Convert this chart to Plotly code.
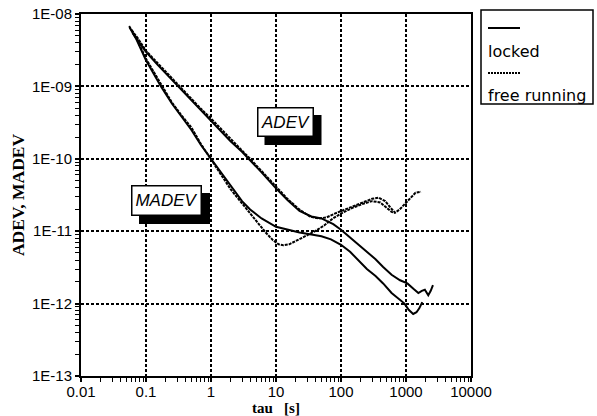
import plotly.graph_objects as go

# ---------------- data ----------------
tau_adev_free = [0.06, 0.075, 0.1, 0.15, 0.22, 0.33, 0.5, 0.7, 1, 1.5, 2, 3, 4, 6, 10, 15, 22, 33, 45,
                 60, 80, 100, 150, 220, 300, 380, 480, 580, 680, 800, 1000, 1200, 1400, 1700]
adev_free = [6.0e-9, 4.6e-9, 3.1e-9, 2.1e-9, 1.45e-9, 1.0e-9, 6.8e-10, 4.9e-10, 3.6e-10, 2.45e-10,
             1.85e-10, 1.3e-10, 1.0e-10, 6.8e-11, 4.1e-11, 2.8e-11, 2.05e-11, 1.6e-11, 1.5e-11,
             1.55e-11, 1.75e-11, 1.9e-11, 2.2e-11, 2.5e-11, 2.8e-11, 2.9e-11, 2.6e-11, 2.1e-11,
             1.8e-11, 2.0e-11, 2.5e-11, 3.0e-11, 3.4e-11, 3.5e-11]

tau_adev_locked = [0.062, 0.08, 0.1, 0.15, 0.22, 0.33, 0.5, 0.7, 1, 1.5, 2, 3, 4, 6, 10, 15, 23, 35,
                   50, 76, 100, 138, 190, 250, 340, 445, 600, 810, 1050, 1300, 1550, 1750, 1950,
                   2200, 2400, 2600]
adev_locked = [5.5e-9, 4.0e-9, 3.0e-9, 2.0e-9, 1.4e-9, 9.6e-10, 6.5e-10, 4.7e-10, 3.4e-10, 2.3e-10,
               1.75e-10, 1.25e-10, 9.6e-11, 6.5e-11, 3.9e-11, 2.7e-11, 1.9e-11, 1.6e-11, 1.5e-11,
               1.25e-11, 1.05e-11, 8.2e-12, 6.5e-12, 5.3e-12, 4.1e-12, 3.2e-12, 2.5e-12, 2.1e-12,
               1.9e-12, 1.6e-12, 1.4e-12, 1.5e-12, 1.55e-12, 1.3e-12, 1.5e-12, 1.8e-12]

tau_madev_free = [0.055, 0.07, 0.1, 0.13, 0.17, 0.25, 0.35, 0.5, 0.7, 1, 1.4, 2, 3, 4, 5.5, 7, 9, 11,
                  13, 16, 20, 28, 40, 55, 75, 100, 150, 220, 300, 400, 500, 600, 680]
madev_free = [6.8e-9, 4.8e-9, 2.4e-9, 1.6e-9, 1.05e-9, 6.0e-10, 4.0e-10, 2.7e-10, 1.6e-10, 1.0e-10,
              6.2e-11, 3.8e-11, 2.4e-11, 1.75e-11, 1.25e-11, 9.5e-12, 7.5e-12, 6.6e-12, 6.4e-12,
              6.6e-12, 7.3e-12, 8.5e-12, 1.0e-11, 1.2e-11, 1.5e-11, 1.75e-11, 2.1e-11, 2.4e-11,
              2.6e-11, 2.5e-11, 2.1e-11, 1.85e-11, 1.8e-11]

tau_madev_locked = [0.056, 0.07, 0.1, 0.13, 0.17, 0.25, 0.35, 0.5, 0.7, 1, 1.4, 2, 3, 4, 6, 10, 15,
                    23, 35, 50, 70, 100, 138, 195, 250, 340, 445, 600, 800, 950, 1100, 1290, 1450,
                    1600, 1780]
madev_locked = [6.5e-9, 4.6e-9, 2.3e-9, 1.5e-9, 1.0e-9, 5.8e-10, 3.8e-10, 2.5e-10, 1.55e-10, 1.0e-10,
                6.6e-11, 4.3e-11, 2.6e-11, 2.0e-11, 1.5e-11, 1.15e-11, 1.05e-11, 9.6e-12, 9.0e-12,
                8.5e-12, 7.7e-12, 6.5e-12, 5.2e-12, 3.7e-12, 3.0e-12, 2.4e-12, 1.9e-12, 1.4e-12,
                1.12e-12, 1.0e-12, 8.2e-13, 7.2e-13, 7.6e-13, 8.6e-13, 1.05e-12]

x_tickvals = [0.01, 0.1, 1, 10, 100, 1000, 10000]
x_ticktext = ["0.01", "0.1", "1", "10", "100", "1000", "10000"]
y_tickvals = [1e-13, 1e-12, 1e-11, 1e-10, 1e-9, 1e-8]
y_ticktext = ["1E-13", "1E-12", "1E-11", "1E-10", "1E-09", "1E-08"]

DOT = "3px,1px"
series = [
    (tau_adev_free, adev_free, DOT),
    (tau_adev_locked, adev_locked, "solid"),
    (tau_madev_free, madev_free, DOT),
    (tau_madev_locked, madev_locked, "solid"),
]

# ---------------- layout geometry (pixels) ----------------
W, H = 597, 416
ML, MR, MT, MB = 81, 126, 14, 40
PW, PH = W - ML - MR, H - MT - MB


def px(xpix):
    return (xpix - ML) / PW


def py(ypix):
    return (H - MB - ypix) / PH


# ---------------- figure ----------------
fig = go.Figure()
for tx, vy, dash in series:
    fig.add_trace(go.Scatter(x=tx, y=vy, mode="lines",
                             line=dict(color="black", width=2, dash=dash),
                             showlegend=False, hoverinfo="skip"))

tick_font = dict(family="Liberation Sans, Arial", size=15, color="black")
ytitle_font = dict(family="Liberation Serif, Times New Roman", size=17.5, color="black", weight="bold")
xtitle_font = dict(family="Liberation Serif, Times New Roman", size=15, color="black", weight="bold")

common = dict(type="log", tickfont=tick_font, ticks="outside", ticklen=4, tickwidth=1.5,
              tickcolor="black",
              minor=dict(ticks="outside", ticklen=4, tickwidth=1.2, tickcolor="black",
                         dtick="D1", showgrid=False),
              showgrid=True, gridcolor="black", gridwidth=1.5, griddash="3px,2px",
              showline=True, linecolor="black", linewidth=2, mirror=True, zeroline=False,
              automargin=False)
fig.update_xaxes(range=[-2, 4], tickvals=x_tickvals, ticktext=x_ticktext, ticklabelstandoff=-3,
                 title=dict(text="tau\u00a0\u00a0\u00a0[s]", font=xtitle_font, standoff=4), **common)
fig.update_yaxes(range=[-13, -8], tickvals=y_tickvals, ticktext=y_ticktext,
                 title=dict(text="ADEV, MADEV", font=ytitle_font, standoff=3), **common)

label_font = dict(family="Liberation Sans, Arial", size=17, color="black", style="italic")


def label_box(text, cx, cy, w, h, off=8):
    # drop shadow
    fig.add_shape(type="rect", xref="paper", yref="paper",
                  x0=px(cx - w / 2 + off), x1=px(cx + w / 2 + off),
                  y0=py(cy + h / 2 + off), y1=py(cy - h / 2 + off),
                  line=dict(width=0), fillcolor="black", layer="above")
    fig.add_annotation(x=px(cx), y=py(cy), xref="paper", yref="paper", text=text, showarrow=False,
                       xanchor="center", yanchor="middle",
                       bgcolor="white", bordercolor="black", borderwidth=1.5, borderpad=1,
                       width=w - 5, height=h - 5, font=label_font)


label_box("ADEV", 285, 122, 57, 30)
label_box("MADEV", 166.5, 200.5, 71, 31)

# legend box (drawn manually: line sample above each label)
fig.add_shape(type="rect", xref="paper", yref="paper", x0=px(481), x1=px(593), y0=py(104), y1=py(10),
              line=dict(color="black", width=1.5), fillcolor="white")
fig.add_shape(type="line", xref="paper", yref="paper", x0=px(488), x1=px(520), y0=py(28), y1=py(28),
              line=dict(color="black", width=2))
fig.add_shape(type="line", xref="paper", yref="paper", x0=px(488), x1=px(520), y0=py(73), y1=py(73),
              line=dict(color="black", width=2, dash="2px,1px"))
leg_font = dict(family="DejaVu Sans", size=16, color="black")
fig.add_annotation(x=px(486), y=py(51), xref="paper", yref="paper", text="locked", showarrow=False,
                   xanchor="left", yanchor="middle", font=leg_font)
fig.add_annotation(x=px(486), y=py(95), xref="paper", yref="paper", text="free running", showarrow=False,
                   xanchor="left", yanchor="middle", font=leg_font)

fig.update_layout(width=W, height=H, margin=dict(l=ML, r=MR, t=MT, b=MB),
                  plot_bgcolor="white", paper_bgcolor="white", showlegend=False)

fig.write_html("out.html")
